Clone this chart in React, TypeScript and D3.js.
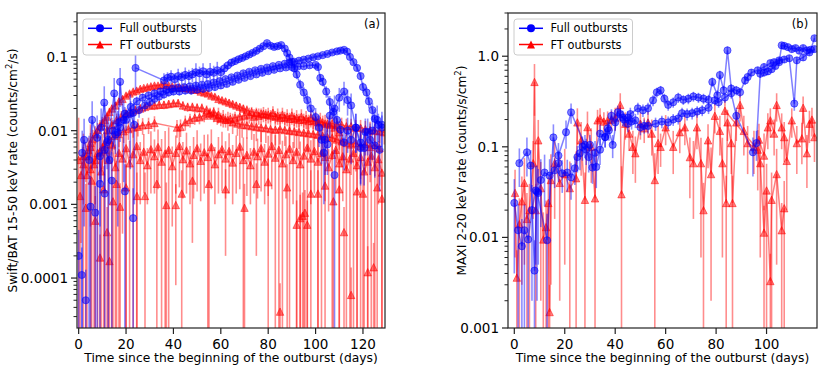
import React from 'react';
import * as d3 from 'd3';

// every point: [day, rate, error]
type Pt = [number, number, number];

// ---------- panel (a): Swift/BAT 15-50 keV ----------
const batFullA: Pt[] = [
  [24, 0.071, 0.035], [36, 0.048, 0.012], [37.5, 0.052, 0.01], [39, 0.054, 0.012], [40.5, 0.05, 0.01],
  [42, 0.055, 0.014], [43.5, 0.053, 0.01], [45, 0.057, 0.015], [46.5, 0.055, 0.012], [48, 0.058, 0.013],
  [49.5, 0.062, 0.02], [51, 0.06, 0.014], [52.5, 0.064, 0.018], [54, 0.058, 0.012], [55.5, 0.063, 0.02],
  [57, 0.061, 0.015], [58.5, 0.066, 0.02], [60, 0.062, 0.013], [61.5, 0.07, 0.012], [63, 0.077, 0.01],
  [64.5, 0.084, 0.01], [66, 0.088, 0.009], [67.5, 0.093, 0.009], [69, 0.097, 0.009], [70.5, 0.102, 0.009],
  [72, 0.108, 0.009], [73.5, 0.114, 0.01], [75, 0.121, 0.01], [76.5, 0.13, 0.01], [78, 0.14, 0.011],
  [79.5, 0.154, 0.012], [81, 0.142, 0.011], [82.5, 0.137, 0.011], [84, 0.14, 0.011], [85.5, 0.145, 0.012],
  [87, 0.13, 0.011], [88, 0.113, 0.01], [89, 0.098, 0.01], [90, 0.086, 0.009], [91, 0.07, 0.008],
  [92, 0.058, 0.008], [93.5, 0.042, 0.007], [95, 0.033, 0.006], [96.5, 0.026, 0.006], [98, 0.02, 0.005],
  [100, 0.0153, 0.005], [101.5, 0.011, 0.005], [102.5, 0.0075, 0.004], [103.5, 0.005, 0.004], [105, 0.0065, 0.004],
];

const batFullB: Pt[] = [
  [11, 0.0055, 0.004], [13, 0.004, 0.003], [15.5, 0.0088, 0.004], [17.5, 0.011, 0.004], [20, 0.014, 0.004],
  [23, 0.0174, 0.005], [25.5, 0.019, 0.004], [28, 0.022, 0.004], [30, 0.0245, 0.004], [32, 0.027, 0.004],
  [34, 0.029, 0.004], [36, 0.031, 0.004], [38, 0.033, 0.004], [40, 0.034, 0.004], [42.5, 0.034, 0.004],
  [45, 0.035, 0.004], [47.5, 0.035, 0.004], [50, 0.036, 0.004], [52.5, 0.037, 0.004], [55, 0.038, 0.004],
  [57.5, 0.039, 0.004], [60, 0.041, 0.004], [62.5, 0.043, 0.004], [65, 0.046, 0.004], [67.5, 0.049, 0.004],
  [70, 0.052, 0.004], [72.5, 0.055, 0.004], [75, 0.058, 0.004], [77.5, 0.061, 0.005], [80, 0.064, 0.005],
  [82.5, 0.067, 0.005], [85, 0.07, 0.005], [87.5, 0.072, 0.005], [90, 0.073, 0.005], [92.5, 0.074, 0.005],
  [95, 0.075, 0.005], [97.5, 0.077, 0.006], [100, 0.078, 0.006], [101, 0.073, 0.006], [102, 0.052, 0.006],
  [103, 0.046, 0.006], [104.5, 0.034, 0.006], [106, 0.0245, 0.005], [107.5, 0.018, 0.004], [109, 0.014, 0.004],
  [110.5, 0.0103, 0.004], [112, 0.0069, 0.004], [113.5, 0.01, 0.005], [115, 0.0075, 0.004], [117, 0.011, 0.006],
  [119, 0.0058, 0.004], [121, 0.0096, 0.005], [123, 0.0075, 0.005], [125, 0.0063, 0.004], [127, 0.0055, 0.004],
];

const batFullC: Pt[] = [
  [9, 0.0045, 0.004], [12, 0.007, 0.004], [14.5, 0.01, 0.004], [17, 0.013, 0.004], [19.5, 0.017, 0.004],
  [22, 0.021, 0.004], [24.5, 0.025, 0.004], [27, 0.028, 0.004], [29.5, 0.03, 0.004], [32, 0.032, 0.004],
  [34.5, 0.034, 0.004], [37, 0.036, 0.004], [39.5, 0.037, 0.004], [42, 0.038, 0.004], [44.5, 0.039, 0.004],
  [47, 0.04, 0.004], [49.5, 0.041, 0.004], [52, 0.042, 0.004], [54.5, 0.043, 0.004], [57, 0.045, 0.004],
  [59.5, 0.047, 0.004], [62, 0.05, 0.004], [64.5, 0.053, 0.004], [67, 0.056, 0.005], [69.5, 0.06, 0.005],
  [72, 0.063, 0.005], [74.5, 0.066, 0.005], [77, 0.069, 0.005], [79.5, 0.072, 0.005], [82, 0.075, 0.005],
  [84.5, 0.078, 0.005], [87, 0.081, 0.006], [89, 0.084, 0.006], [91, 0.086, 0.006], [93, 0.089, 0.006],
  [95, 0.092, 0.006], [97, 0.095, 0.006], [99, 0.099, 0.007], [101, 0.102, 0.007], [103, 0.106, 0.007],
  [105, 0.11, 0.007], [107, 0.115, 0.008], [109, 0.119, 0.008], [110.5, 0.122, 0.008], [112, 0.125, 0.008],
  [113.3, 0.118, 0.008], [114.5, 0.1, 0.008], [116, 0.085, 0.007], [117.5, 0.071, 0.007], [119, 0.055, 0.006],
  [120, 0.039, 0.006], [121.5, 0.033, 0.006], [122.5, 0.025, 0.005], [124, 0.019, 0.005], [125, 0.0145, 0.005],
  [126.5, 0.012, 0.005], [128, 0.011, 0.005],
];

const batFullD: Pt[] = [
  [1.5, 0.005, 0.005], [2.3, 0.0075, 0.007], [4.4, 0.004, 0.0045], [5.7, 0.014, 0.011], [7.8, 0.008, 0.008],
  [9.5, 0.011, 0.009], [10.8, 0.024, 0.016], [12.5, 0.0075, 0.008], [15, 0.032, 0.02], [16.5, 0.0095, 0.009],
  [17.5, 0.046, 0.025], [19, 0.014, 0.012], [21.8, 0.017, 0.014], [23.5, 0.012, 0.011],
];

const batFullE: Pt[] = [
  [104, 0.0075, 0.005], [106, 0.016, 0.008], [108, 0.02, 0.01], [110, 0.028, 0.01], [112, 0.034, 0.012],
  [113.5, 0.026, 0.01], [115, 0.022, 0.01], [117, 0.011, 0.006], [119, 0.0069, 0.005], [120.5, 0.0058, 0.004],
  [122, 0.0096, 0.005], [124, 0.01, 0.006], [126, 0.014, 0.008], [128, 0.012, 0.006],
];

const batFullLow: Pt[] = [
  [0, 0.0002, 0.00025], [1.3, 0.00011, 0.00015], [3, 0.00005, 0.00008], [5, 0.00093, 0.0015], [7, 0.00077, 0.001],
  [9, 0.0019, 0.003], [11, 0.0014, 0.002], [14, 0.0021, 0.003], [19.5, 0.0015, 0.002], [23, 0.00065, 0.001],
  [108, 0.0025, 0.003],
];

const batFtA: Pt[] = [
  [1, 0.0025, 0.0022], [2, 0.0035, 0.0025], [3, 0.0045, 0.0025], [4, 0.0055, 0.0025], [5, 0.0068, 0.0025],
  [6, 0.0078, 0.0025], [7, 0.009, 0.0025], [8, 0.0102, 0.0025], [9, 0.0115, 0.0025], [10, 0.0128, 0.0025],
  [11, 0.014, 0.0025], [12, 0.0155, 0.0025], [13, 0.018, 0.0025], [14, 0.02, 0.0025], [15.5, 0.022, 0.0025],
  [17, 0.025, 0.0025], [18.5, 0.027, 0.0025], [20, 0.03, 0.0025], [21.5, 0.032, 0.0025], [23, 0.034, 0.0025],
  [24.5, 0.035, 0.0025], [26, 0.037, 0.0025], [27.5, 0.038, 0.0025], [29, 0.039, 0.0025], [30.5, 0.04, 0.0025],
  [32, 0.041, 0.0025], [33.5, 0.041, 0.0025], [35, 0.042, 0.0025], [36.5, 0.042, 0.0025], [38, 0.041, 0.0025],
  [39.5, 0.04, 0.0025], [41, 0.039, 0.0025], [42.5, 0.039, 0.0025], [44, 0.038, 0.0025], [45.5, 0.038, 0.0025],
  [47, 0.037, 0.0025], [48.5, 0.036, 0.0025], [50, 0.036, 0.0025], [51.5, 0.034, 0.0025], [53, 0.033, 0.0025],
  [54.5, 0.032, 0.0025], [56, 0.03, 0.0025], [57.5, 0.029, 0.0025], [59, 0.027, 0.0025], [60.5, 0.026, 0.0025],
  [62, 0.025, 0.0025], [63.5, 0.024, 0.0025], [65, 0.023, 0.0025], [66.5, 0.022, 0.0025], [68, 0.021, 0.0025],
  [69.5, 0.02, 0.0025], [71, 0.019, 0.003], [73, 0.018, 0.003], [75, 0.0175, 0.003], [77, 0.017, 0.003],
  [79, 0.0165, 0.003], [81, 0.016, 0.003], [83, 0.0155, 0.003], [85, 0.015, 0.003], [87, 0.015, 0.003],
  [89, 0.0145, 0.003], [91, 0.0145, 0.003], [93, 0.014, 0.003], [95, 0.014, 0.003], [97, 0.0135, 0.003],
  [99, 0.0135, 0.003], [101, 0.013, 0.003], [103, 0.013, 0.003], [105, 0.0125, 0.003], [107, 0.0125, 0.003],
  [109, 0.012, 0.003], [111, 0.012, 0.003], [113, 0.0115, 0.003], [115, 0.0115, 0.003], [117, 0.011, 0.003],
  [119, 0.011, 0.003], [121, 0.0105, 0.003], [123, 0.0102, 0.003], [125, 0.01, 0.003], [127, 0.0098, 0.003],
  [129, 0.0095, 0.003],
];

const batFtB: Pt[] = [
  [10, 0.006, 0.003], [12, 0.0102, 0.003], [14, 0.012, 0.003], [16, 0.014, 0.003], [18, 0.0155, 0.003],
  [20, 0.017, 0.003], [22, 0.018, 0.003], [24, 0.019, 0.003], [26, 0.02, 0.003], [28, 0.021, 0.003],
  [30, 0.022, 0.003], [32, 0.022, 0.003], [34, 0.0225, 0.003], [36, 0.0225, 0.003], [38, 0.023, 0.003],
  [40, 0.0235, 0.003], [42, 0.0237, 0.003], [44, 0.022, 0.003], [46, 0.021, 0.003], [48, 0.021, 0.003],
  [50, 0.0205, 0.003], [52, 0.0203, 0.003], [54, 0.019, 0.003], [55.5, 0.0174, 0.003], [57, 0.016, 0.003],
  [58.5, 0.015, 0.003], [60, 0.0145, 0.003], [62, 0.014, 0.003], [64, 0.0145, 0.003], [66, 0.015, 0.003],
  [68, 0.0155, 0.004], [70, 0.016, 0.004], [72, 0.0165, 0.004], [74, 0.0155, 0.004], [76, 0.016, 0.004],
  [78, 0.017, 0.004], [80, 0.0165, 0.004], [82, 0.0175, 0.004], [84, 0.016, 0.004], [86, 0.0165, 0.004],
  [88, 0.0155, 0.004], [90, 0.016, 0.004], [92, 0.015, 0.004], [94, 0.0155, 0.004], [96, 0.0145, 0.004],
  [98, 0.015, 0.004], [100, 0.014, 0.004], [102, 0.0135, 0.004], [104, 0.0125, 0.004], [106, 0.012, 0.004],
  [108, 0.011, 0.004], [110, 0.0095, 0.004],
];

const batFtC: Pt[] = [
  [5, 0.003, 0.0025], [7, 0.004, 0.003], [9, 0.0052, 0.003], [11, 0.0065, 0.003], [13, 0.0075, 0.003],
  [15, 0.0085, 0.003], [17, 0.009, 0.003], [19, 0.0098, 0.003], [21, 0.0105, 0.003], [23, 0.011, 0.003],
  [25, 0.0113, 0.003], [27, 0.0118, 0.003], [29.5, 0.012, 0.003], [32, 0.0127, 0.003], [41.5, 0.011, 0.003],
  [43, 0.0112, 0.003], [45, 0.013, 0.003], [47, 0.014, 0.003], [49, 0.015, 0.003], [51, 0.0152, 0.003],
  [53, 0.016, 0.003], [55, 0.017, 0.003], [57, 0.018, 0.003], [59, 0.0165, 0.004], [61, 0.015, 0.004],
  [63, 0.014, 0.004], [65, 0.013, 0.004], [67, 0.0125, 0.004], [69, 0.012, 0.004], [71, 0.0118, 0.004],
  [73, 0.0115, 0.004], [75, 0.0112, 0.004], [77, 0.011, 0.004], [79, 0.0108, 0.004], [81, 0.0105, 0.004],
  [83, 0.0103, 0.004], [85, 0.0105, 0.004], [87, 0.0102, 0.004], [89, 0.01, 0.004], [91, 0.0098, 0.004],
  [93, 0.0096, 0.004], [95, 0.0094, 0.004], [97, 0.0092, 0.004], [99, 0.009, 0.004], [101, 0.0088, 0.004],
  [103, 0.0085, 0.004], [105, 0.0082, 0.004], [107, 0.008, 0.004], [109, 0.0076, 0.004], [111, 0.0072, 0.004],
  [113, 0.0068, 0.004], [115, 0.0065, 0.004], [117, 0.0068, 0.004], [119, 0.0062, 0.004], [121, 0.0066, 0.004],
  [123, 0.006, 0.004], [125, 0.0064, 0.004], [127, 0.0058, 0.004],
];

const batFtD: Pt[] = [
  [0, 0.004, 0.011], [2, 0.0045, 0.0046], [3.5, 0.0025, 0.0026], [5, 0.006, 0.0062], [6.5, 0.0035, 0.0036],
  [8, 0.005, 0.0052], [9.5, 0.0028, 0.0029], [11, 0.0055, 0.0056], [12.5, 0.004, 0.0041], [14, 0.0065, 0.0066],
  [15.5, 0.0032, 0.0033], [17, 0.005, 0.0051], [18.5, 0.0042, 0.0038], [20, 0.0058, 0.0059], [21.5, 0.0036, 0.0037],
  [23, 0.0048, 0.0049], [24.5, 0.0062, 0.0063], [26, 0.004, 0.003], [27.5, 0.0052, 0.0038], [29, 0.0034, 0.0024],
  [30.5, 0.0056, 0.0042], [32, 0.0045, 0.0031], [33.5, 0.006, 0.0044], [35, 0.0038, 0.0039], [36.5, 0.0049, 0.005],
  [38, 0.0055, 0.0056], [39.5, 0.0033, 0.0028], [41, 0.005, 0.0036], [42.5, 0.0062, 0.0045], [44, 0.0041, 0.0029],
  [45.5, 0.0054, 0.004], [47, 0.0036, 0.0026], [48.5, 0.0047, 0.0035], [50, 0.0058, 0.0043], [51.5, 0.0039, 0.0028],
  [53, 0.0051, 0.0037], [54.5, 0.0044, 0.0045], [56, 0.006, 0.0044], [57.5, 0.0035, 0.0025], [59, 0.0048, 0.0034],
  [60.5, 0.0056, 0.0041], [62, 0.0042, 0.003], [63.5, 0.0053, 0.0039], [65, 0.0037, 0.0027], [66.5, 0.005, 0.0036],
  [68, 0.0061, 0.0045], [69.5, 0.004, 0.0041], [71, 0.0047, 0.0034], [72.5, 0.0034, 0.0024], [74, 0.0052, 0.0038],
  [75.5, 0.0045, 0.0033], [77, 0.0058, 0.0043], [78.5, 0.0038, 0.0028], [80, 0.0049, 0.0036], [81.5, 0.0062, 0.0046],
  [83, 0.0043, 0.0044], [84.5, 0.0055, 0.0056], [86, 0.0036, 0.0037], [87.5, 0.0048, 0.0036], [89, 0.0057, 0.0058],
  [90.5, 0.004, 0.003], [92, 0.0052, 0.0053], [93.5, 0.0035, 0.0036], [95, 0.0046, 0.0047], [96.5, 0.0059, 0.006],
  [98, 0.0042, 0.0032], [99.5, 0.0053, 0.0039], [101, 0.0038, 0.0039], [102.5, 0.005, 0.0051], [104, 0.0044, 0.0033],
  [105.5, 0.0032, 0.0024], [107, 0.0047, 0.0048], [108.5, 0.0055, 0.0041], [110, 0.0036, 0.0037], [111.5, 0.0045, 0.0034],
  [113, 0.003, 0.0031], [114.5, 0.0042, 0.0043], [116, 0.005, 0.0051], [117.5, 0.0034, 0.0035], [119, 0.0044, 0.0045],
  [120.5, 0.0028, 0.0029], [122, 0.0038, 0.0039], [123.5, 0.0046, 0.0047], [125, 0.0032, 0.0033], [126.5, 0.0041, 0.0031],
  [128, 0.0027, 0.0028],
];

const batFtLow: Pt[] = [
  [0.6, 0.0013, 0.0013], [3, 0.0009, 0.001], [5.5, 0.0021, 0.0022], [7, 0.0006, 0.0007], [9, 0.00019, 0.0002],
  [10.5, 0.0016, 0.0017], [12, 0.00042, 0.0005], [13, 0.00017, 0.0002], [14.5, 0.0011, 0.0012], [16, 0.0019, 0.002],
  [17.5, 0.00093, 0.001], [20, 0.0017, 0.0018], [24.6, 0.0013, 0.0014], [28, 0.0013, 0.0014], [33, 0.0019, 0.002],
  [37, 0.00098, 0.001], [41, 0.00098, 0.0009], [43.5, 0.0014, 0.0015], [48, 0.0021, 0.0018], [55, 0.0019, 0.002],
  [62, 0.0016, 0.0014], [70, 0.0009, 0.001], [75, 0.0019, 0.0017], [80, 0.002, 0.0021], [85, 0.000035, 0.00005],
  [88, 0.0017, 0.0018], [92, 0.00053, 0.0006], [93.5, 0.00065, 0.0007], [94.5, 0.0007, 0.00075], [95.5, 0.00077, 0.0008],
  [96.5, 0.00053, 0.0006], [98, 0.0014, 0.0015], [101, 0.0014, 0.0015], [104, 0.0018, 0.0019], [107.5, 0.0011, 0.0012],
  [110, 0.0016, 0.0017], [112, 0.00042, 0.0005], [115, 0.000059, 0.00008], [117.5, 0.0015, 0.0016], [120, 0.0014, 0.0015],
  [122, 0.00012, 0.00015], [124.5, 0.00014, 0.00016], [126, 0.0017, 0.0018], [128, 0.0012, 0.0013],
];

const batYTicks = [0.0001, 0.001, 0.01, 0.1];
const batYLabels = ['0.0001', '0.001', '0.01', '0.1'];
const batXTicks = [0, 20, 40, 60, 80, 100, 120];

// ---------- panel (b): MAXI 2-20 keV ----------
const maxiFullA: Pt[] = [
  [0, 0.024, 0.02], [1.5, 0.012, 0.011], [3, 0.008, 0.008], [4, 0.012, 0.011], [5.5, 0.0095, 0.009],
  [7, 0.02, 0.018], [8.5, 0.033, 0.028], [9.5, 0.031, 0.026], [10.5, 0.043, 0.03], [12, 0.052, 0.03],
  [14, 0.048, 0.025], [16, 0.055, 0.02], [17.5, 0.066, 0.025], [19, 0.051, 0.02], [21, 0.052, 0.02],
  [22.5, 0.046, 0.02], [24, 0.058, 0.02], [25, 0.077, 0.025], [26, 0.085, 0.03], [27, 0.1, 0.03],
  [28.5, 0.093, 0.03], [29.5, 0.077, 0.025], [31, 0.059, 0.02], [32, 0.086, 0.03], [34, 0.14, 0.035],
  [36, 0.128, 0.03], [37, 0.16, 0.035], [38.5, 0.22, 0.04], [40, 0.186, 0.035], [42, 0.23, 0.04],
  [43.5, 0.2, 0.035], [45, 0.21, 0.035], [46.5, 0.19, 0.035], [48, 0.196, 0.035], [50, 0.164, 0.03],
  [51.5, 0.17, 0.03], [53, 0.17, 0.03], [56, 0.18, 0.03], [58.5, 0.19, 0.03], [61, 0.186, 0.03],
  [63, 0.2, 0.03], [65, 0.206, 0.03], [66.5, 0.235, 0.035], [68.5, 0.23, 0.035], [70.5, 0.235, 0.035],
  [72.5, 0.245, 0.035], [74.5, 0.253, 0.035], [77, 0.27, 0.04], [79.5, 0.326, 0.04], [81, 0.31, 0.04],
  [83.5, 0.35, 0.045], [86, 0.39, 0.05], [88, 0.22, 0.05], [94.6, 0.087, 0.04], [96, 0.11, 0.04],
  [97.5, 0.64, 0.06], [99, 0.66, 0.06], [100.5, 0.68, 0.06], [102, 0.72, 0.06], [103.5, 0.78, 0.06],
  [105, 0.86, 0.07], [106, 1.32, 0.1], [107, 1.3, 0.1], [108.5, 1.26, 0.1], [110, 1.2, 0.1],
  [111.5, 1.23, 0.1], [113, 1.15, 0.09], [114.5, 1.23, 0.1], [116, 1.16, 0.09], [117.5, 1.18, 0.09],
  [119, 1.58, 0.12],
];

const maxiFullB: Pt[] = [
  [2, 0.066, 0.03], [5, 0.087, 0.04], [6.5, 0.062, 0.03], [8, 0.0043, 0.005], [9, 0.032, 0.03],
  [13, 0.0093, 0.009], [15.5, 0.127, 0.05], [17.5, 0.08, 0.03], [20.5, 0.145, 0.05], [22.5, 0.24, 0.06],
  [28, 0.105, 0.03], [30, 0.105, 0.03], [32.5, 0.06, 0.025], [34, 0.093, 0.03], [36, 0.128, 0.03],
  [37.5, 0.152, 0.035], [39, 0.105, 0.03], [41, 0.24, 0.045], [43, 0.21, 0.04], [45, 0.18, 0.035],
  [46, 0.23, 0.04], [49, 0.266, 0.04], [51, 0.253, 0.04], [53, 0.266, 0.04], [55, 0.326, 0.045],
  [56.5, 0.4, 0.05], [58, 0.42, 0.05], [59.5, 0.34, 0.045], [61, 0.29, 0.04], [63, 0.31, 0.04],
  [65, 0.35, 0.045], [67, 0.33, 0.04], [69, 0.34, 0.045], [71, 0.36, 0.045], [73, 0.35, 0.045],
  [75, 0.34, 0.045], [77, 0.33, 0.045], [78.5, 0.52, 0.06], [80.5, 0.37, 0.05], [81.5, 0.62, 0.07],
  [83, 0.42, 0.05], [84.5, 1.16, 0.12], [86, 0.44, 0.05], [88, 0.42, 0.05], [89.5, 0.4, 0.05],
  [91.5, 0.54, 0.06], [92.5, 0.59, 0.06], [94, 0.66, 0.06], [96.5, 0.7, 0.06], [99, 0.76, 0.07],
  [101.5, 0.84, 0.07], [103, 0.86, 0.07], [105, 0.9, 0.08], [107, 0.92, 0.08], [109, 0.95, 0.08],
  [111, 0.3, 0.05], [112, 0.9, 0.08], [114.5, 0.97, 0.08], [117, 1.1, 0.09], [119, 1.2, 0.1],
];

const maxiFtA: Pt[] = [
  [0.3, 0.031, 0.025], [1, 0.0036, 0.0036], [2, 0.014, 0.013], [3, 0.025, 0.022], [4, 0.04, 0.035],
  [5, 0.016, 0.015], [6, 0.02, 0.019], [7.5, 0.066, 0.05], [8, 0.52, 0.3], [8.5, 0.02, 0.019],
  [9.5, 0.118, 0.08], [10.5, 0.035, 0.033], [11.5, 0.0095, 0.0094], [12.6, 0.013, 0.0125], [13.5, 0.024, 0.023],
  [14, 0.0015, 0.0015], [14.5, 0.043, 0.04], [16, 0.066, 0.05], [18, 0.04, 0.038], [20, 0.05, 0.045],
  [22, 0.035, 0.034], [24.5, 0.045, 0.044], [25, 0.186, 0.08], [26.5, 0.118, 0.07], [28, 0.026, 0.026],
  [29, 0.165, 0.08], [30.5, 0.1, 0.06], [32, 0.027, 0.027], [33, 0.196, 0.06], [34, 0.206, 0.06],
  [35.5, 0.19, 0.05], [37, 0.196, 0.05], [38.5, 0.2, 0.05], [40, 0.21, 0.06], [42, 0.29, 0.1],
  [42.5, 0.03, 0.031], [44, 0.18, 0.06], [45.5, 0.14, 0.05], [47, 0.1, 0.05], [48, 0.085, 0.045],
  [50, 0.18, 0.06], [51.5, 0.16, 0.05], [53, 0.186, 0.06], [54.5, 0.14, 0.06], [55.7, 0.043, 0.042],
  [57, 0.11, 0.06],
];

const maxiFtB: Pt[] = [
  [58, 0.1, 0.04], [60, 0.164, 0.06], [63, 0.1, 0.05], [65.6, 0.145, 0.06], [67.6, 0.164, 0.06],
  [69.6, 0.077, 0.05], [71, 0.066, 0.05], [72.4, 0.164, 0.07], [74, 0.066, 0.06], [75, 0.02, 0.02],
  [76.8, 0.118, 0.06], [78, 0.05, 0.048], [79.5, 0.22, 0.08], [81.5, 0.15, 0.07], [82.5, 0.066, 0.06],
  [84, 0.024, 0.024], [84.5, 0.186, 0.07], [86, 0.11, 0.06], [86.5, 0.024, 0.024], [88, 0.186, 0.07],
  [89.5, 0.29, 0.1], [91, 0.15, 0.07], [92.5, 0.11, 0.06], [95, 0.1, 0.05], [97, 0.12, 0.06],
  [99, 0.08, 0.06], [100.5, 0.164, 0.07], [101.5, 0.196, 0.07], [103, 0.14, 0.06], [104, 0.29, 0.1],
  [106, 0.164, 0.07], [107, 0.128, 0.06], [108, 0.07, 0.05], [110, 0.196, 0.07], [112, 0.11, 0.06],
  [114, 0.124, 0.06], [114.5, 0.27, 0.09], [116, 0.085, 0.05], [117, 0.18, 0.07], [118, 0.2, 0.07],
  [119, 0.128, 0.06],
];

const maxiFtC: Pt[] = [
  [83.5, 0.25, 0.08], [96.5, 0.093, 0.06], [97.5, 0.066, 0.06], [99, 0.0113, 0.011], [100, 0.033, 0.032],
  [101.5, 0.0033, 0.0033], [102, 0.026, 0.026], [104, 0.05, 0.045], [106, 0.012, 0.012], [107, 0.021, 0.021],
];

const maxiYTicks = [0.001, 0.01, 0.1, 1];
const maxiYLabels = ['0.001', '0.01', '0.1', '1.0'];
const maxiXTicks = [0, 20, 40, 60, 80, 100];

const BLUE = '#0000ff';
const RED = '#ff0000';
const FONT = "'DejaVu Sans', sans-serif";
const TOP = 13;
const BOTTOM = 328;

const tri = (r: number) => `M0,${-r}L${r},${r}L${-r},${r}Z`;

function Series({ pts, x, y, color, shape, line }: any) {
  const path = d3.line<Pt>().x((d) => x(d[0])).y((d) => y(d[1]));
  return (
    <g>
      {line && <path d={path(pts) || ''} fill="none" stroke={color} strokeOpacity={0.5} strokeWidth={1.5} />}
      {pts.map((d: Pt, i: number) => {
        const lo = d[1] - d[2];
        const y0 = lo > 0 ? y(lo) : BOTTOM + 5;
        return (
          <line key={'e' + i} x1={x(d[0])} x2={x(d[0])} y1={y(d[1] + d[2])} y2={y0}
            stroke={color} strokeOpacity={0.45} strokeWidth={1.6} />
        );
      })}
      {pts.map((d: Pt, i: number) =>
        shape === 'circle' ? (
          <circle key={'m' + i} cx={x(d[0])} cy={y(d[1])} r={3.6} fill={color} fillOpacity={0.5}
            stroke={color} strokeOpacity={0.5} strokeWidth={1} />
        ) : (
          <path key={'m' + i} d={tri(3.7)} transform={`translate(${x(d[0])},${y(d[1])})`} fill={color}
            fillOpacity={0.5} stroke={color} strokeOpacity={0.5} strokeWidth={1} />
        )
      )}
    </g>
  );
}

function Panel(p: any) {
  const x = d3.scaleLinear().domain(p.xDomain).range([p.left, p.right]);
  const y = d3.scaleLog().domain(p.yDomain).range([BOTTOM, TOP]);
  const minor = y.ticks().filter((t) => !p.yTicks.some((m: number) => Math.abs(m - t) / m < 1e-6));
  const cy = (TOP + BOTTOM) / 2;
  const cx = (p.left + p.right) / 2;
  const lx = p.left + 6;
  return (
    <g fontFamily={FONT}>
      <defs>
        <clipPath id={'clip-' + p.id}>
          <rect x={p.left} y={TOP} width={p.right - p.left} height={BOTTOM - TOP} />
        </clipPath>
      </defs>
      <g clipPath={`url(#clip-${p.id})`}>
        {p.ft.map((s: Pt[], i: number) => (
          <Series key={'ft' + i} pts={s} x={x} y={y} color={RED} shape="tri" line={true} />
        ))}
        {(p.ftDots || []).map((s: Pt[], i: number) => (
          <Series key={'ftd' + i} pts={s} x={x} y={y} color={RED} shape="tri" line={false} />
        ))}
        {p.full.map((s: Pt[], i: number) => (
          <Series key={'fu' + i} pts={s} x={x} y={y} color={BLUE} shape="circle" line={true} />
        ))}
        {(p.fullDots || []).map((s: Pt[], i: number) => (
          <Series key={'fud' + i} pts={s} x={x} y={y} color={BLUE} shape="circle" line={false} />
        ))}
      </g>
      <rect x={p.left} y={TOP} width={p.right - p.left} height={BOTTOM - TOP} fill="none" stroke="#222" strokeWidth={1.2} />
      {p.yTicks.map((t: number, i: number) => (
        <g key={'yt' + i}>
          <line x1={p.left - 6} x2={p.left} y1={y(t)} y2={y(t)} stroke="#222" strokeWidth={1.2} />
          <text x={p.left - 9} y={y(t) + 4.9} textAnchor="end" fontSize={13.5} fill="#000">{p.yLabels[i]}</text>
        </g>
      ))}
      {minor.map((t: number, i: number) => (
        <line key={'ym' + i} x1={p.left - 3.5} x2={p.left} y1={y(t)} y2={y(t)} stroke="#222" strokeWidth={1} />
      ))}
      {p.xTicks.map((t: number, i: number) => (
        <g key={'xt' + i}>
          <line x1={x(t)} x2={x(t)} y1={BOTTOM} y2={BOTTOM + 6} stroke="#222" strokeWidth={1.2} />
          <text x={x(t)} y={BOTTOM + 21} textAnchor="middle" fontSize={13.5} fill="#000">{t}</text>
        </g>
      ))}
      <text x={cx} y={362} textAnchor="middle" fontSize={12.3} fill="#000">
        Time since the beginning of the outburst (days)
      </text>
      <text transform={`translate(${p.yLabelX},${cy}) rotate(-90)`} textAnchor="middle" fontSize={12.2} fill="#000">
        {p.yLabel}
        <tspan dy={-5} fontSize={8.5}>2</tspan>
        <tspan dy={5}>{p.yLabelEnd}</tspan>
      </text>
      <text x={p.tagX} y={28} textAnchor="middle" fontSize={11.5} fill="#000">{p.tag}</text>
      <g>
        <rect x={lx} y={19} width={118.5} height={36} rx={3} fill="#fff" fillOpacity={0.8} stroke="#ccc" strokeWidth={1} />
        <line x1={lx + 5} x2={lx + 29} y1={28.3} y2={28.3} stroke={BLUE} strokeWidth={1.5} />
        <circle cx={lx + 17} cy={28.3} r={4} fill={BLUE} />
        <text x={lx + 36.5} y={32.3} fontSize={11.4} fill="#000">Full outbursts</text>
        <line x1={lx + 5} x2={lx + 29} y1={44.5} y2={44.5} stroke={RED} strokeWidth={1.5} />
        <path d={tri(4)} transform={`translate(${lx + 17},${44.5})`} fill={RED} />
        <text x={lx + 36.5} y={48.5} fontSize={11.4} fill="#000">FT outbursts</text>
      </g>
    </g>
  );
}

export default function App() {
  return (
    <svg width={830} height={373} style={{ position: 'absolute', left: 0, top: 0, background: '#fff' }}>
      <Panel id="a" left={77} right={385} xDomain={[-0.7, 129.3]} yDomain={[2.1e-5, 0.395]}
        full={[batFullA, batFullB, batFullC, batFullD, batFullE]} fullDots={[batFullLow]}
        ft={[batFtD, batFtC, batFtB, batFtA]} ftDots={[batFtLow]}
        yTicks={batYTicks} yLabels={batYLabels} xTicks={batXTicks}
        yLabel="Swift/BAT 15-50 keV rate (counts/cm" yLabelEnd="/s)" yLabelX={17} tag="(a)" tagX={372} />
      <Panel id="b" left={508} right={817} xDomain={[-2.5, 120]} yDomain={[0.001, 3]}
        full={[maxiFullA, maxiFullB]} fullDots={[]}
        ft={[maxiFtA, maxiFtB, maxiFtC]} ftDots={[]}
        yTicks={maxiYTicks} yLabels={maxiYLabels} xTicks={maxiXTicks}
        yLabel="MAXI 2-20 keV rate (counts/s/cm" yLabelEnd=")" yLabelX={466} tag="(b)" tagX={800} />
    </svg>
  );
}
